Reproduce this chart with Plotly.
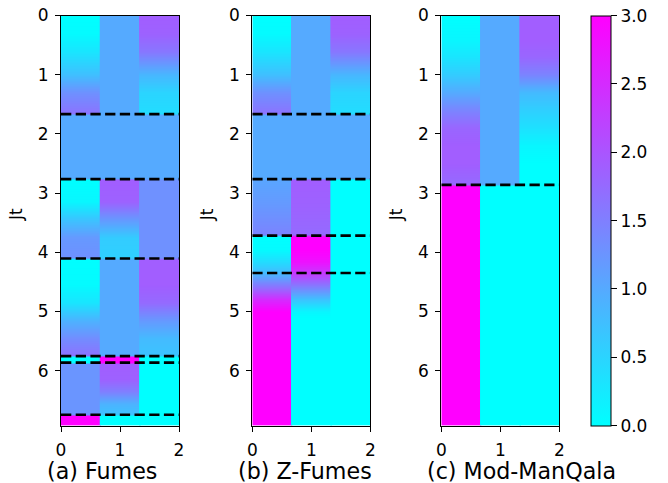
import plotly.graph_objects as go

# ---------------- data ----------------
panel_titles = ["(a) Fumes", "(b) Z-Fumes", "(c) Mod-ManQala"]
y_max = 6.93
n_cols = 3

# panel (a): knot positions (Jt) and values per column
a_knots = [0.00, 0.30, 0.60, 1.00, 1.30, 1.655,
           1.675, 2.755,
           2.775, 3.15, 3.45, 3.75, 4.095,
           4.115, 4.55, 4.85, 5.15, 5.45, 5.745,
           5.765, 5.855,
           5.875, 6.15, 6.35, 6.55, 6.735,
           6.755, 6.93]
a_col0 = [0, 0.05, 0.3, 0.75, 1.3, 1.65,
          1, 1,
          0, 0.1, 0.7, 1.2, 1.3,
          0, 0.05, 0.3, 0.9, 1.35, 1.65,
          0, 0,
          1.25, 1.25, 1.25, 1.25, 1.25,
          3, 3]
a_col1 = [1, 1, 1, 1, 1, 1,
          1, 1,
          1.9, 1.85, 1.2, 0.6, 0.55,
          1, 1, 1, 1, 1, 1,
          3, 3,
          1.9, 1.85, 1.5, 0.9, 0.7,
          0, 0]
a_col2 = [1.9, 1.85, 1.6, 0.85, 0.5, 0.4,
          1, 1,
          1.3, 1.3, 1.3, 1.3, 1.3,
          1.9, 1.9, 1.75, 1.2, 0.8, 0.7,
          0, 0,
          0, 0, 0, 0, 0,
          0, 0]
a_lines = [1.665, 2.765, 4.105, 5.755, 5.865, 6.745]

# panel (b)
b_knots = [0.00, 0.30, 0.60, 1.00, 1.30, 1.655,
           1.675, 2.755,
           2.775, 3.2, 3.705,
           3.73, 3.95, 4.15, 4.34,
           4.36, 4.6, 4.8, 5.0, 5.1, 6.93]
b_col0 = [0, 0.05, 0.3, 0.75, 1.3, 1.65,
          1, 1,
          1.05, 1.2, 1.45,
          0, 0.05, 0.4, 0.8,
          0.85, 1.7, 2.5, 3, 3, 3]
b_col1 = [1, 1, 1, 1, 1, 1,
          1, 1,
          1.9, 1.85, 1.75,
          3, 3, 2.8, 2.35,
          2.3, 1.45, 0.7, 0.1, 0, 0]
b_col2 = [1.9, 1.85, 1.6, 0.85, 0.5, 0.4,
          1, 1,
          0, 0, 0,
          0, 0, 0, 0,
          0, 0, 0, 0, 0, 0]
b_lines = [1.665, 2.765, 3.72, 4.35]

# panel (c)
c_knots = [0.0, 0.4, 0.7, 1.0, 1.3, 1.6, 1.9, 2.2, 2.5, 2.85, 2.87, 6.93]
c_col0 = [0, 0.1, 0.3, 0.6, 1.0, 1.45, 1.8, 1.9, 1.9, 1.75, 3, 3]
c_col1 = [1, 1, 1, 1, 1, 1, 1, 1, 1, 1, 0, 0]
c_col2 = [1.9, 1.9, 1.8, 1.45, 0.8, 0.55, 0.35, 0.1, 0, 0, 0, 0]
c_lines = [2.86]

cbar_ticks = [0.0, 0.5, 1.0, 1.5, 2.0, 2.5, 3.0]
x_ticks = [0, 1, 2]
y_ticks = [0, 1, 2, 3, 4, 5, 6]

panels = [
    (a_knots, [a_col0, a_col1, a_col2], a_lines),
    (b_knots, [b_col0, b_col1, b_col2], b_lines),
    (c_knots, [c_col0, c_col1, c_col2], c_lines),
]

# ---------------- layout helpers ----------------
W, H = 668, 483
FONT = "DejaVu Sans"
px_left = [61, 252.3, 441.3]
ax_w = 118
px_top, px_bot = 15.5, 425.7
TICK = 17


def xp(p):
    return p / W


def yp(p):
    return 1 - p / H


cool = [[0, "rgb(0,255,255)"], [1, "rgb(255,0,255)"]]

fig = go.Figure()

overlap = 0.01  # tiny overlap so adjacent column images leave no seam
for i, (knots, cols, lines) in enumerate(panels):
    xa = "x" if i == 0 else f"x{i+1}"
    ya = "y" if i == 0 else f"y{i+1}"
    for j, vals in enumerate(cols):
        x0 = max(0, 2 * j / n_cols - overlap)
        x1 = min(2, 2 * (j + 1) / n_cols + overlap)
        fig.add_trace(go.Heatmap(
            z=[[v] for v in vals], x=[x0, x1], y=knots,
            zsmooth="best", coloraxis="coloraxis",
            xaxis=xa, yaxis=ya, hoverinfo="skip"))
    for b in lines:
        fig.add_trace(go.Scatter(
            x=[0, 2], y=[b, b], mode="lines",
            line=dict(color="black", width=2.7, dash="10.3px,4.4px"),
            xaxis=xa, yaxis=ya, showlegend=False, hoverinfo="skip"))

layout = dict(
    width=W, height=H, autosize=False,
    margin=dict(l=0, r=0, t=0, b=0, autoexpand=False),
    paper_bgcolor="white", plot_bgcolor="white",
    font=dict(family=FONT, size=TICK, color="black"),
    showlegend=False,
    coloraxis=dict(
        colorscale=cool, cmin=0, cmax=3,
        colorbar=dict(
            x=xp(591), xanchor="left", xpad=0,
            y=yp((px_top + px_bot) / 2), yanchor="middle", ypad=0,
            len=(px_bot - px_top) / H, lenmode="fraction",
            thickness=20, thicknessmode="pixels",
            outlinewidth=1, outlinecolor="black",
            ticks="outside", ticklen=6, tickwidth=1, tickcolor="black",
            tickvals=cbar_ticks, tickformat=".1f",
            tickfont=dict(family=FONT, size=TICK, color="black"),
        ),
    ),
)

annotations = []
for i in range(3):
    sfx = "" if i == 0 else str(i + 1)
    layout["xaxis" + sfx] = dict(
        domain=[xp(px_left[i]), xp(px_left[i] + ax_w)],
        range=[0, 2], tickvals=x_ticks, ticks="outside", ticklen=5,
        tickwidth=1, tickcolor="black", showline=True, linecolor="black",
        linewidth=1.2, mirror=True, showgrid=False, zeroline=False,
        ticklabelstandoff=4,
        automargin=False, anchor="y" + sfx, tickfont=dict(size=TICK))
    layout["yaxis" + sfx] = dict(
        domain=[yp(px_bot), yp(px_top)],
        range=[y_max, 0], tickvals=y_ticks, ticks="outside", ticklen=5,
        tickwidth=1, tickcolor="black", showline=True, linecolor="black",
        linewidth=1.2, mirror=True, showgrid=False, zeroline=False,
        ticklabelstandoff=3,
        automargin=False, anchor="x" + sfx, tickfont=dict(size=TICK))
    annotations.append(dict(
        text=panel_titles[i], xref="paper", yref="paper",
        x=xp(px_left[i] - 16), y=yp(471), xanchor="left",
        yanchor="middle", showarrow=False,
        font=dict(family=FONT, size=22.2, color="black")))
    annotations.append(dict(
        text="Jt", xref="paper", yref="paper", textangle=-90,
        x=xp(px_left[i] - 45), y=yp(215), xanchor="center",
        yanchor="middle", showarrow=False,
        font=dict(family=FONT, size=TICK, color="black")))

layout["annotations"] = annotations
fig.update_layout(**layout)
fig.write_html(
    "out.html",
    config={"displayModeBar": False},
    post_script="document.body.style.margin='0';document.body.style.padding='0';",
)
